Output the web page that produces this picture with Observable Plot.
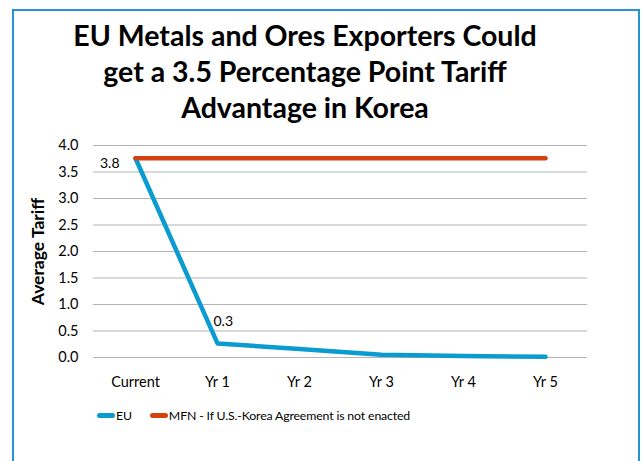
<!DOCTYPE html>
<html>
<head>
<meta charset="utf-8">
<script src="https://cdn.jsdelivr.net/npm/d3@7"></script>
<script src="https://cdn.jsdelivr.net/npm/@observablehq/plot@0.6"></script>
<style>
  html, body { margin: 0; padding: 0; background: #fff; }
  #wrap { position: relative; width: 641px; height: 461px; overflow: hidden; font-family: Lato, "Open Sans", sans-serif; }
  #frame { position: absolute; left: 12px; top: 9px; width: 624px; height: 470px; border: 2.5px solid #2A93D5; box-sizing: content-box; }
  #title { position: absolute; left: 0; top: 17px; width: 610px; text-align: center; font-weight: bold; font-size: 28.5px; line-height: 36px; color: #000; }
  #chart { position: absolute; left: 0; top: 130px; }
  #legend { position: absolute; left: 97px; top: 408px; display: flex; align-items: center; font-size: 12.3px; letter-spacing: -0.15px; color: #000; }
  .sw { display: inline-block; width: 18px; height: 5px; border-radius: 3px; margin-right: 1px; }
  .item { display: flex; align-items: center; margin-right: 18px; }
</style>
</head>
<body>
<div id="wrap">
  <div id="frame"></div>
  <div id="title">EU Metals and Ores Exporters Could<br>get a 3.5 Percentage Point Tariff<br>Advantage in Korea</div>
  <div id="chart"></div>
  <div id="legend"></div>
</div>
<script>
const periods = ["Current", "Yr 1", "Yr 2", "Yr 3", "Yr 4", "Yr 5"];
const euValues = [3.76, 0.265, 0.16, 0.05, 0.03, 0.013];
const mfnValues = [3.76, 3.76, 3.76, 3.76, 3.76, 3.76];
const seriesNames = ["EU", "MFN - If U.S.-Korea Agreement is not enacted"];
const seriesColors = ["#0A9BD0", "#D2410F"];
const yTicks = [0, 0.5, 1, 1.5, 2, 2.5, 3, 3.5, 4];
const yLabel = "Average Tariff";
const dataLabels = [
  {period: "Current", value: 3.76, text: "3.8"},
  {period: "Yr 1", value: 0.265, text: "0.3"}
];

const rows = [];
periods.forEach((p, i) => {
  rows.push({series: seriesNames[0], period: p, value: euValues[i]});
  rows.push({series: seriesNames[1], period: p, value: mfnValues[i]});
});

const chart = Plot.plot({
  width: 641,
  height: 262,
  marginLeft: 93,
  marginRight: 54,
  marginTop: 15,
  marginBottom: 35,
  style: {fontFamily: "Lato, 'Open Sans', sans-serif", fontSize: "14.5px", color: "#000", background: "transparent"},
  x: {type: "point", domain: periods, padding: 0.5, label: null, tickSize: 0, tickPadding: 19},
  y: {domain: [0, 4], ticks: yTicks, tickFormat: d3.format(".1f"), tickSize: 0, tickPadding: 15, label: null},
  color: {domain: seriesNames, range: seriesColors},
  marks: [
    Plot.gridY(yTicks, {stroke: "#b4b4b4", strokeOpacity: 1, strokeWidth: 1.2}),
    Plot.line(rows, {x: "period", y: "value", z: "series", stroke: "series", strokeWidth: 4.5, strokeLinecap: "round", strokeLinejoin: "round"}),
    Plot.text([yLabel], {frameAnchor: "left", textAnchor: "middle", text: d => d, rotate: -90, dx: -55, fontWeight: "bold", fontSize: 17.5, fill: "#000"}),
    Plot.text(dataLabels.slice(0, 1), {x: "period", y: "value", text: "text", textAnchor: "end", dx: -16, dy: 5, fontSize: 14, fill: "#000"}),
    Plot.text(dataLabels.slice(1), {x: "period", y: "value", text: "text", textAnchor: "start", dx: -4, dy: -22, fontSize: 14, fill: "#000"})
  ]
});
document.getElementById("chart").appendChild(chart);

const legend = document.getElementById("legend");
seriesNames.forEach((name, i) => {
  const item = document.createElement("div");
  item.className = "item";
  const sw = document.createElement("span");
  sw.className = "sw";
  sw.style.background = seriesColors[i];
  item.appendChild(sw);
  item.appendChild(document.createTextNode(name));
  legend.appendChild(item);
});
</script>
</body>
</html>
